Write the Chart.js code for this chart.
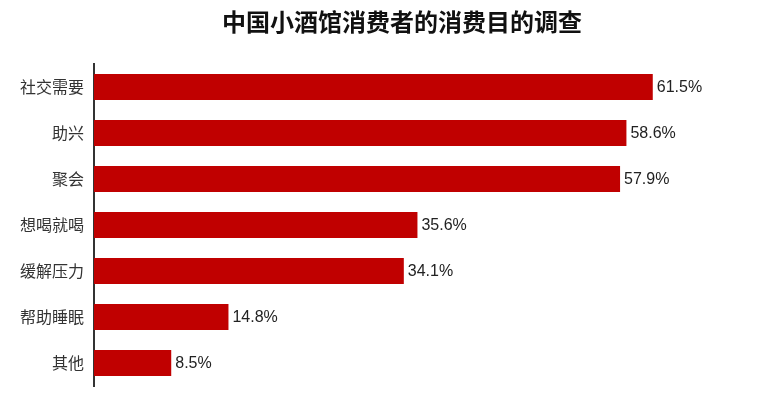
<!DOCTYPE html>
<html>
<head>
<meta charset="utf-8">
<script src="https://cdn.jsdelivr.net/npm/chart.js@4"></script>
<style>
html,body{margin:0;padding:0;background:#fff;}
#wrap{width:764px;height:397px;}
</style>
</head>
<body>
<div id="wrap"><canvas id="c" width="764" height="397"></canvas></div>
<script>
const categories = ["社交需要","助兴","聚会","想喝就喝","缓解压力","帮助睡眠","其他"];
const values = [61.5, 58.6, 57.9, 35.6, 34.1, 14.8, 8.5];
const titleText = "中国小酒馆消费者的消费目的调查";

const labelPlugin = {
  id: 'barLabels',
  afterDatasetsDraw(chart) {
    const ctx = chart.ctx;
    const meta = chart.getDatasetMeta(0);
    ctx.save();
    ctx.font = '16px "Liberation Sans", Arial, sans-serif';
    ctx.fillStyle = '#222';
    ctx.textAlign = 'left';
    ctx.textBaseline = 'middle';
    meta.data.forEach((bar, i) => {
      ctx.fillText(values[i].toFixed(1) + '%', bar.x + 4, bar.y + 1);
    });
    ctx.restore();
  }
};

const titlePlugin = {
  id: 'customTitle',
  afterDraw(chart) {
    const ctx = chart.ctx;
    ctx.save();
    ctx.font = 'bold 24px "Noto Sans CJK SC", sans-serif';
    ctx.fillStyle = '#111';
    ctx.textAlign = 'center';
    ctx.textBaseline = 'middle';
    ctx.fillText(titleText, 402, 22);
    ctx.restore();
  }
};

new Chart(document.getElementById('c'), {
  type: 'bar',
  data: {
    labels: categories,
    datasets: [{
      data: values,
      backgroundColor: '#C00000',
      borderWidth: 0,
      barPercentage: 0.57,
      categoryPercentage: 1.0
    }]
  },
  options: {
    indexAxis: 'y',
    responsive: false,
    animation: false,
    layout: { padding: { left: 0, right: 34, top: 64, bottom: 11 } },
    plugins: {
      legend: { display: false },
      tooltip: { enabled: false },
      title: { display: false }
    },
    scales: {
      x: {
        display: false,
        min: 0,
        max: 70
      },
      y: {
        afterFit(scale) { scale.width = 94; scale.paddingTop = 0; scale.paddingBottom = 0; },
        grid: { display: false, drawTicks: false },
        border: { display: true, color: '#333', width: 2 },
        ticks: {
          color: '#333',
          padding: 10,
          font: { family: '"Noto Sans CJK SC", sans-serif', size: 16 }
        }
      }
    }
  },
  plugins: [labelPlugin, titlePlugin]
});
</script>
</body>
</html>
